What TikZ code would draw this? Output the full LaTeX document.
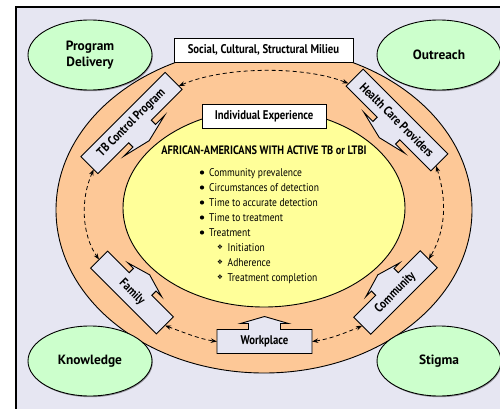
\documentclass[tikz,border=0pt]{standalone}
\usepackage{fontspec}
\usetikzlibrary{arrows.meta,calc,shapes.geometric,shadows}
\newfontfamily\labelfont{PT Sans}
\newfontfamily\condfont{PT Sans}[FakeStretch=0.85]
\newfontfamily\symfont{DejaVu Sans}
\definecolor{bgcol}{HTML}{E6E6F2}
\definecolor{ringcol}{HTML}{FDC897}
\definecolor{corecol}{HTML}{FFFF99}
\definecolor{greencol}{HTML}{CCFFCC}

\tikzset{
  outline/.style={draw=black, line width=0.9pt},
  factor/.style={outline, fill=greencol, ellipse, minimum width=124pt,
    minimum height=70pt, inner sep=0pt, align=center,
    font=\labelfont\bfseries\fontsize{13.4}{16}\selectfont,
    drop shadow={shadow xshift=0.8pt, shadow yshift=-1.2pt, opacity=0.35, fill=black}},
  boldcond/.style={font=\condfont\bfseries\fontsize{12.6}{14}\selectfont},
  whitebox/.style={outline, fill=white, minimum height=24pt, inner sep=0pt, boldcond},
  calltext/.style={minimum height=24pt, inner sep=0pt, boldcond},
  itemtext/.style={anchor=base west, inner sep=0pt,
    font=\condfont\fontsize{11.2}{13}\selectfont},
  dot/.style={circle, fill=black, inner sep=0pt, minimum size=4.2pt},
  subdot/.style={inner sep=0pt, font=\symfont\fontsize{6.5}{7}\selectfont},
  link/.style={line width=0.8pt, dash pattern=on 4pt off 3pt,
    {Stealth[length=6pt,width=4.5pt]}-{Stealth[length=6pt,width=4.5pt]}}
}

% #1 name, #2 centre, #3 angle, #4 length, #5 head half-width, #6 side (1 north, -1 south), #7 text
\newcommand\calloutbox[7]{%
  \begin{scope}[shift={#2}, rotate=#3]
    \draw[outline, fill=bgcol]
      ({-#4/2},{12*#6}) -- ({#4/2},{12*#6}) -- ({#4/2},{-12*#6})
      -- (16,{-12*#6}) -- (16,{-18*#6}) -- (#5,{-18*#6})
      -- (0,{-25*#6}) -- ({-#5},{-18*#6}) -- (-16,{-18*#6})
      -- (-16,{-12*#6}) -- ({-#4/2},{-12*#6}) -- cycle;
  \end{scope}
  \node[calltext, rotate=#3, minimum width=#4pt] (#1) at #2 {#7};
}

\begin{document}
\begin{tikzpicture}[x=1pt, y=-1pt]
  \useasboundingbox (0,0) rectangle (500,409);

  % frame
  \fill[bgcol] (16,7) rectangle (500,409);
  \draw[line width=1.1pt] (16,409) -- (16,7) -- (500,7);

  % rings
  \draw[outline, fill=ringcol] (264,210) ellipse [x radius=208pt, y radius=163pt];
  \draw[outline, fill=corecol] (264,208) ellipse [x radius=141pt, y radius=99pt];

  % outer factors
  \node[factor] (delivery) at (90,55) {Program\\Delivery};
  \node[factor] (outreach) at (439,55) {Outreach};
  \node[factor] (knowledge) at (90,361) {Knowledge};
  \node[factor] (stigma) at (439,361) {Stigma};

  % level labels
  \node[whitebox, minimum width=179pt] (milieu) at (263.5,50) {Social, Cultural, Structural Milieu};
  \node[whitebox, minimum width=124pt] (individual) at (264,116) {Individual Experience};

  % core content
  \node[anchor=base, inner sep=0pt, font=\condfont\bfseries\fontsize{12.2}{14}\selectfont]
    (title) at (264,154) {AFRICAN-AMERICANS WITH ACTIVE TB or LTBI};
  \foreach \t [count=\i] in {Community prevalence, Circumstances of detection,
      Time to accurate detection, Time to treatment, Treatment} {
    \node[dot] (dot\i) at (202,{172.5+15*(\i-1)}) {};
    \node[itemtext] (item\i) at (209,{176+15*(\i-1)}) {\t};
  }
  \foreach \t [count=\i] in {Initiation, Adherence, Treatment completion} {
    \node[subdot] (sub\i) at (220,{247.5+15*(\i-1)}) {❖};
    \node[itemtext] (subitem\i) at (227.5,{251+15*(\i-1)}) {\t};
  }

  % actors in the ring
  \calloutbox{tb}{(131.5,123)}{45}{119}{29}{-1}{TB Control Program}
  \calloutbox{hcp}{(397,120)}{-45}{120}{29}{-1}{Health Care Providers}
  \calloutbox{family}{(132,292.5)}{-45}{93}{24}{1}{Family}
  \calloutbox{community}{(395.5,292.5)}{45}{94}{24}{1}{Community}
  \calloutbox{workplace}{(264.5,341.5)}{0}{95}{24}{1}{Workplace}

  % links between actors
  \draw[link] ($(tb.east)!0.6!(tb.south east)$) .. controls (225,66) and (305,66) ..
    ($(hcp.west)!0.7!(hcp.south west)$);
  \draw[link] ($(tb.west)!0.5!(tb.south west)$) .. controls (80,200) and (82,235) ..
    (family.west);
  \draw[link] ($(hcp.east)!0.4!(hcp.south east)$) .. controls (447,200) and (446,230) ..
    (community.east);
  \draw[link] (family.east) .. controls (185,333) and (200,339) .. (workplace.west);
  \draw[link] (workplace.east) .. controls (330,339) and (345,333) .. (community.west);
\end{tikzpicture}
\end{document}
